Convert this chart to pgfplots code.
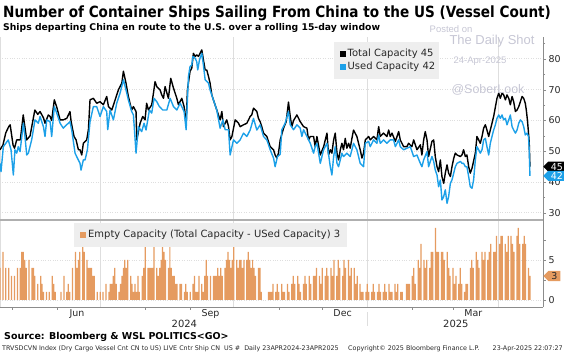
\documentclass[border=0pt]{standalone}
\usepackage{pgfplots}
\pgfplotsset{compat=1.18}
\usepackage{fontspec}
\setmainfont{DejaVu Sans}
\newfontfamily\titlef{DejaVu Sans}[FakeStretch=0.88]
\newfontfamily\wmf{Liberation Sans}
\usetikzlibrary{shapes.symbols}
\definecolor{ublue}{RGB}{28,160,232}
\definecolor{barc}{RGB}{229,155,96}
\definecolor{gridc}{RGB}{222,222,222}
\definecolor{axc}{RGB}{140,140,140}
\definecolor{sepc}{RGB}{175,175,175}
\definecolor{legbg}{RGB}{238,238,238}
\definecolor{wm}{RGB}{198,198,212}
\definecolor{labc}{RGB}{40,40,40}
\begin{document}
\begin{tikzpicture}[x=1bp,y=1bp]
\path[use as bounding box] (0bp,0bp) rectangle (564bp,354bp);
% ---------------- top panel ----------------
\begin{axis}[
  at={(0bp,134bp)}, anchor=south west, scale only axis,
  width=543bp, height=183bp,
  xmin=0, xmax=374, ymin=27.7, ymax=87.1,
  axis line style={draw=none},
  xtick={69,161,253,343}, xticklabels={}, major x tick style={draw=none},
  xmajorgrids, x grid style={gridc, line width=0.6bp},
  ytick={30,40,50,60,70,80}, minor ytick={35,45,55,65,75,85},
  ymajorgrids, y grid style={gridc, dotted, line width=0.9bp},
  ytick pos=right, yticklabel pos=right, tick align=outside,
  major tick length=3bp, minor tick length=2bp,
  y tick style={axc},
  tick label style={font=\fontsize{9.5}{10}\selectfont, text=labc},
  yticklabel style={xshift=-1bp},
  /pgf/number format/assume math mode=true,
  clip mode=individual,
]
\draw[gridc, line width=0.8bp] (rel axis cs:0,0) -- (rel axis cs:0,1);
\draw[axc, line width=0.7bp] (rel axis cs:1,0) -- (rel axis cs:1,1);
\addplot[black, line width=1.4bp, line join=round] coordinates {
(0,50.5)(2,52)(4,56)(6,58)(7,58.6)(9,52)(10,51)(11.5,53.7)(14,53.7)(16,61.8)(18.4,53.7)(20.7,55)(24,63.4)(26,62)(27.6,62.9)(30,60.8)(31,59.1)(33.3,61.8)(34.5,61.3)(35.6,60)(37.4,66.7)(39,64.5)(41.4,60.2)(43.6,60.2)(46,60.7)(48.2,62.9)(49,59.6)(51,54.8)(52.4,53.7)(54,50.5)(55.1,50.5)(56.3,48.8)(57.4,52.6)(59.7,53.7)(60.9,57)(62,66.7)(64.3,67.2)(66.6,65.6)(68.9,66.1)(71.2,65.1)(73.5,67.8)(74.7,64.5)(77,63.4)(79.3,66.7)(81.6,70)(83.9,72.1)(85,76)(86.8,72.1)(88.4,67.8)(90.7,63.4)(91.9,64.5)(93.7,62.9)(94.2,53.7)(96.5,59.1)(98.3,61.3)(99.9,60.2)(101,65.6)(102.2,63.4)(104.5,65.1)(105.7,68.9)(106.8,72.6)(108,71)(110.3,69.9)(111.4,68.3)(112.6,67.2)(113.7,71)(116,67.2)(117.6,73.7)(119.5,70.5)(120.6,68.9)(121.8,67.2)(122.9,65.1)(125.2,67.2)(126.8,64.5)(127.5,61.3)(128.2,59)(129.1,69.9)(130.9,76)(132.1,77)(133.2,81.8)(134.4,80.8)(135.5,81.3)(136.7,80.8)(137.8,81.8)(139,82.9)(140.1,79.7)(141.3,76.4)(142.4,76.4)(143.6,74.3)(144.7,72.1)(145.9,68.3)(147,66.7)(149.3,63.4)(151.6,60.2)(152.8,62.9)(153.9,58)(156.2,60.2)(157.4,58)(158.5,53.7)(159.7,54.8)(162,60.2)(164.3,59.1)(165.4,58)(167.7,58.6)(170,59.1)(172.3,61.3)(173.4,61.8)(174.6,64)(176.9,62.9)(178,60.7)(179.2,59.6)(180.3,58)(181.5,55.9)(183.8,54.8)(186.1,51.5)(188.4,50.5)(189.5,48.8)(190.7,47.8)(191.8,49.4)(193,53.7)(195.3,57.5)(197.1,59.6)(198.7,66)(199.9,61.3)(201,58)(202.2,60)(204.5,61.8)(206.8,59.6)(209.1,58)(211.4,57.5)(212.5,53.7)(213.7,54.8)(216,54.8)(217.1,51.5)(218.3,54.8)(220.6,48.8)(222.9,51.5)(225.2,55.9)(226.3,48.8)(227.5,50.5)(228.6,49.4)(229.8,53.7)(230.9,55.9)(232.1,49.4)(233.2,47.2)(234.4,50.5)(235.5,52.6)(236.6,50.5)(237.8,54.2)(238.9,51)(240.1,52.6)(241.2,51)(242.4,54.2)(243.5,56.9)(245.8,54.8)(248.1,50.5)(249.3,47.8)(250.4,49.4)(251.6,53.7)(252.7,54.2)(253.9,54.8)(255,53.7)(257.3,54.8)(259.6,53.7)(260.8,58)(261.9,54.8)(264.2,55.9)(266.5,54.8)(267.7,56.9)(268.8,54.8)(270,55.9)(272.3,53.2)(274.6,56.4)(275.7,53.7)(278,51.5)(280.3,51.5)(281.4,52.6)(283.7,51.5)(284.9,53.7)(287.2,50.5)(289.5,52.1)(290.6,48.8)(291.8,53.7)(292.9,56.4)(294.1,53.7)(295.2,48.3)(297.5,53.2)(298.7,53.7)(299.8,48.3)(301,45)(302.1,43.4)(303.3,47.2)(304.4,41.8)(305.6,39.6)(306.7,42.9)(307.9,45.6)(309,42.9)(310.2,41.8)(311.3,45)(312.5,47.7)(313.6,49.4)(314.8,48.8)(317.1,48.3)(318.2,48.8)(319.3,50.5)(320.5,48.3)(321.6,48.8)(322.8,45)(323.9,42.9)(325.1,44.5)(327.4,49.4)(328.5,54.8)(329.7,53.7)(330.8,52.6)(332,54.8)(333.1,57.5)(334.3,58.6)(335.4,56.9)(336.6,54.8)(337.7,56.9)(340,61.3)(342.3,67.2)(343.5,68.9)(344.6,67.2)(345.8,68.9)(346.9,68.3)(348.1,66.7)(349.2,68.3)(350.4,67.2)(351.5,65.1)(352.7,67.8)(353.8,66.1)(355,62.9)(356.1,63.4)(357.3,64.5)(358.4,66.1)(359.6,67.8)(360.7,67.2)(361.8,65.6)(362.5,63.4)(363.3,60)(364,56)(364.5,53)(365,45)
};
\addplot[ublue, line width=1.4bp, line join=round] coordinates {
(0,46.1)(0.7,43.4)(2.3,51.5)(5.7,53.7)(7.6,50.5)(9.2,42.3)(10.3,50.5)(11.5,49.4)(12.6,51.5)(13.8,49.9)(16.1,59.1)(17.2,54.8)(18.4,48.8)(19.5,49.4)(21.8,53.7)(24.1,60.2)(26.4,59.1)(27.6,61.3)(29.9,58)(31,54.8)(32.2,60.2)(34.5,59.6)(35.6,54.8)(37.4,64.5)(39.1,62.4)(41.4,59.1)(43.6,57.5)(45.9,58.6)(48.2,59.6)(49.4,56.9)(51.7,49.4)(52.8,48.3)(55.1,46.1)(55.8,43.9)(57.4,47.2)(58.6,47.2)(60.2,50.5)(62,59.6)(64.3,64.5)(66.6,64.5)(68.9,61.3)(71.2,64.5)(73.5,62.9)(74.2,57)(75.8,63.4)(78.1,60.2)(80.4,65.6)(82.7,68.9)(85,73.2)(86.8,69.9)(88.4,66.7)(90.7,62.9)(91.9,61.8)(93.7,49.4)(95.3,58)(97.6,56.4)(99.2,59.1)(100.6,56.9)(102.9,63.4)(104.5,62.4)(106.1,67.2)(108,66.1)(109.8,64.5)(112.1,63.4)(114.9,63.4)(117.2,67.2)(119.5,64.5)(121.8,63.4)(124.1,65.6)(125.2,64.5)(126.8,62.9)(128.2,57)(129.8,74.3)(130.9,77.5)(132.1,78)(132.8,80.8)(134.4,80.2)(135.5,79.1)(136.2,76.4)(137.4,79.7)(139,81.8)(140.1,78)(141.3,73.2)(143.6,72.1)(144.7,69.9)(147,66.7)(149.3,63.4)(151.6,57.5)(153.5,60.2)(155.1,57)(157.4,57)(158.5,48.8)(160.8,53.7)(163.1,52.6)(165.4,53.7)(167.7,55.9)(170,54.8)(172.3,56.9)(174.6,60.7)(176.9,56.9)(179.2,58.6)(181.5,54.8)(183.8,53.7)(186.1,50.5)(188.4,47.8)(189.5,45)(191.1,48.3)(193,49)(194.1,57)(196.4,59.1)(198.7,62.9)(199.9,58.6)(202.2,57)(204.5,58.6)(206.8,57.5)(207.9,54.8)(209.1,57)(211.4,54.8)(213.7,52.6)(216,49.4)(217.1,51.5)(218.3,52.6)(220.6,46.1)(222.9,50.5)(225.2,52.6)(227.5,45)(228.6,42.3)(229.8,48.3)(230.9,51.5)(232.1,46.1)(233.2,45)(235.5,49.4)(236.6,48.3)(238.9,49.4)(241.2,48.3)(243.5,52.6)(245.8,50.5)(248.1,46.1)(250.4,45)(251.6,52.6)(253.9,53.2)(255,51.5)(257.3,53.7)(259.6,52.6)(260.8,55.3)(261.9,52.6)(264.2,53.7)(266.5,52.6)(268.8,53.7)(271.1,53.7)(272.3,51.5)(274.6,53.7)(275.7,51.5)(278,50.5)(280.3,51)(282.6,51.5)(284.9,48.3)(287.2,48.8)(289.5,46.1)(290.6,45)(291.8,47.2)(294.1,49.9)(295.2,45)(297.5,48.3)(298.7,46.7)(299.8,43.9)(301,42.3)(302.1,38.5)(303.3,40.7)(304.4,34.2)(305.6,35.3)(306.7,37.5)(307.9,33.1)(309,35.3)(310.2,39.6)(311.3,40.7)(312.5,42.9)(313.6,45)(314.8,46.1)(317.1,46.7)(318.2,46.1)(319.3,46.1)(320.5,45)(321.6,45)(322.8,41.8)(323.9,38.5)(325.1,38)(326.2,40.7)(327.4,47.2)(328.5,51.5)(329.7,50.5)(330.8,49.4)(332,50.5)(333.1,53.7)(334.3,54.2)(335.4,51.5)(336.6,48.8)(337.7,52.6)(340,56.9)(341.2,58.6)(342.3,60.7)(343.5,61.8)(344.6,60.7)(345.8,61.8)(346.9,60.2)(348.1,60.7)(349.2,58.6)(350.4,60.2)(351.5,61.8)(352.7,58)(353.8,56.9)(355,55.9)(356.1,56.9)(357.3,59.1)(358.4,60.2)(359.6,59.6)(360.7,58)(361.8,55.3)(363,55.9)(364,54.8)(364.5,50.5)(365,42)
};
\node[signal, signal to=west, fill=black, text=white, font=\fontsize{9.5}{10}\selectfont, inner xsep=2.5bp, inner ysep=1.5bp, anchor=west] at (axis cs:374,45) {45};
\node[signal, signal to=west, fill=ublue, text=white, font=\fontsize{9.5}{10}\selectfont, inner xsep=2.5bp, inner ysep=1.5bp, anchor=west] at (axis cs:374,42) {42};
\end{axis}
% ---------------- bottom panel ----------------
\begin{axis}[
  at={(0bp,47bp)}, anchor=south west, scale only axis,
  width=543bp, height=87bp,
  xmin=0, xmax=374, ymin=-0.875, ymax=10,
  axis line style={draw=none},
  xtick={69,161,253,343}, xticklabels={}, major x tick style={draw=none},
  minor xtick={8,39,100,131,192,222,284,312},
  xmajorgrids, x grid style={gridc, line width=0.6bp},
  extra x ticks={53,145,236,326}, extra x tick labels={Jun,Sep,Dec,Mar},
  extra x tick style={grid=none, major tick length=0pt},
  xtick pos=bottom,
  ytick={0,5}, minor ytick={2.5,7.5},
  ymajorgrids, y grid style={gridc, dotted, line width=0.9bp},
  ytick pos=right, yticklabel pos=right, tick align=outside,
  major tick length=3bp, minor tick length=2.5bp,
  tick style={axc},
  tick label style={font=\fontsize{9.5}{10}\selectfont, text=labc},
  yticklabel style={xshift=-1bp},
  xticklabel style={yshift=1bp},
  /pgf/number format/assume math mode=true,
  clip mode=individual,
]
\draw[gridc, line width=0.8bp] (rel axis cs:0,0) -- (rel axis cs:0,1);
\draw[axc, line width=0.7bp] (rel axis cs:1,0) -- (rel axis cs:1,1);
\draw[axc, line width=0.7bp] (rel axis cs:0,0) -- (rel axis cs:1,0);
\addplot[ybar, bar width=0.85, fill=barc, draw=none] coordinates {
(0,4)(2,6)(4,4)(6,4)(8,3)(10,3)(12,4)(14,4)(15,6)(16,6)(17,5)(18,4)(20,5)(22,4)(23,4)(24,3)(26,2)(28,3)(29,2)(30,1)(32,1)(34,1)(36,3)(37,2)(38,1)(42,1)(44,3)(46,1)(47,2)(48,1)(50,4)(52,6)(53,4)(54,5)(55,6)(57,7)(58,6)(60,5)(61,4)(62,4)(63,4)(64,3)(65,3)(67,1)(69,1)(71,1)(73,2)(75,1)(76,2)(77,2)(78,3)(79,4)(80,2)(82,1)(83,2)(84,3)(85,4)(86,5)(87,4)(88,5)(90,3)(91,2)(92,1)(93,2)(94,1)(95,3)(96,1)(98,3)(99,4)(100,7)(102,4)(103,4)(104,4)(105,4)(106,7)(108,4)(109,3)(110,4)(111,5)(112,7)(113,6)(114,5)(116,4)(117,7)(118,4)(119,3)(120,3)(121,2)(122,2)(124,2)(125,2)(127,1)(128,2)(129,1)(131,1)(133,2)(134,3)(135,1)(136,1)(137,3)(139,2)(140,1)(141,3)(142,5)(143,3)(145,3)(147,3)(148,3)(149,3)(150,4)(151,3)(152,4)(153,3)(155,4)(156,5)(157,6)(158,5)(159,4)(160,5)(161,7)(163,5)(164,4)(165,5)(166,5)(167,4)(168,5)(170,5)(171,6)(172,5)(173,4)(174,5)(175,4)(176,3)(178,4)(179,4)(180,1)(185,1)(186,1)(187,1)(188,2)(190,1)(191,2)
(192,1)(194,2)(195,1)(196,1)(198,2)(199,1)(201,2)(202,3)(203,2)(205,3)(206,2)(207,1)(209,2)(210,3)(211,2)(213,3)(214,2)(216,3)(217,3)(218,4)(220,3)(221,2)(222,4)(224,3)(225,4)(226,3)(228,4)(229,3)(230,5)(232,3)(233,5)(234,4)(236,3)(237,5)(238,4)(240,5)(241,3)(242,4)(244,4)(245,2)(246,3)(248,2)(249,1)(250,1)(252,1)(253,2)(254,1)(256,1)(257,2)(258,1)(260,1)(261,2)(262,1)(264,1)(265,2)(266,1)(268,2)(269,1)(270,1)(272,2)(273,1)(274,2)(276,1)(277,1)(280,2)(281,2)(282,2)(284,3)(285,4)(286,2)(288,5)(289,4)(290,7)(292,5)(293,4)(294,5)(296,4)(297,6)(298,6)(300,9)(301,6)(302,6)(304,6)(305,6)(306,5)(308,6)(309,4)(310,3)(312,4)(313,2)(314,3)(316,2)(317,4)(318,2)(320,1)(321,2)(322,2)(324,4)(325,5)(326,4)(328,6)(329,5)(330,4)(332,6)(333,5)(334,6)(336,5)(337,6)(338,7)(340,6)(341,6)(342,8)(344,7)(345,8)(346,8)(348,7)(349,6)(350,8)(352,8)(353,7)(354,6)(356,8)(357,9)(358,7)(360,7)(361,8)(362,7)(364,4)(365,3)
};
\node[signal, signal to=west, fill=barc, text=labc, font=\fontsize{9.5}{10}\selectfont, inner xsep=3bp, inner ysep=1.5bp, anchor=west] at (axis cs:374,3) {3};
\node[font=\fontsize{10}{11}\selectfont, text=labc] at ([yshift=-17bp]axis cs:127,-0.875) {2024};
\node[font=\fontsize{10}{11}\selectfont, text=labc] at ([yshift=-17bp]axis cs:314,-0.875) {2025};
\draw[gridc, line width=0.8bp] ([yshift=-5bp]axis cs:253,-0.875) -- ([yshift=-19bp]axis cs:253,-0.875);
\end{axis}
% separator between panels
\draw[sepc, line width=2bp] (0bp,134bp) -- (543bp,134bp);
% titles
\node[anchor=west, inner sep=0pt] at (3bp,341bp) {\titlef\fontsize{15.5}{17}\selectfont\bfseries Number of Container Ships Sailing From China to the US (Vessel Count)};
\node[anchor=west, inner sep=0pt] at (3bp,326.5bp) {\fontsize{9.3}{11}\selectfont\bfseries Ships departing China en route to the U.S. over a rolling 15-day window};
% watermarks
\node[text=wm, font=\wmf\fontsize{9.5}{11}\selectfont] at (451bp,325bp) {Posted on};
\node[text=wm, font=\wmf\fontsize{13}{15}\selectfont] at (492bp,313bp) {The Daily Shot};
\node[text=wm, font=\wmf\fontsize{9.5}{11}\selectfont] at (480bp,293bp) {24-Apr-2025};
\node[text=wm, font=\wmf\fontsize{12.5}{14}\selectfont] at (488bp,264bp) {@SoberLook};
% top legend
\fill[legbg] (334bp,275bp) rectangle (439bp,312bp);
\fill[black] (340bp,297bp) rectangle (346bp,303bp);
\node[anchor=west, inner sep=0pt, text=labc, font=\fontsize{10}{11}\selectfont] at (347.5bp,300bp) {Total Capacity 45};
\fill[ublue] (340bp,284bp) rectangle (346bp,290bp);
\node[anchor=west, inner sep=0pt, text=labc, font=\fontsize{10}{11}\selectfont] at (347.5bp,287bp) {Used Capacity 42};
% bottom legend
\fill[legbg] (74bp,107bp) rectangle (347bp,131bp);
\fill[barc] (80bp,116bp) rectangle (86bp,122bp);
\node[anchor=west, inner sep=0pt, text=labc, font=\fontsize{10}{11}\selectfont] at (88bp,119bp) {Empty Capacity (Total Capacity - USed Capacity) 3};
% footer
\node[anchor=west, inner sep=0pt] at (4bp,17bp) {\fontsize{9.5}{12}\selectfont\bfseries Source: Bloomberg \& WSL POLITICS<GO>};
\node[anchor=west, inner sep=0pt, text=labc] at (2bp,5bp) {\fontsize{6.4}{7}\selectfont TRVSDCVN Index (Dry Cargo Vessel Cnt CN to US) LIVE Cntr Ship CN\ \ US \#\ \ Daily 23APR2024-23APR2025};
\node[anchor=west, inner sep=0pt, text=labc] at (348bp,5bp) {\fontsize{6.4}{7}\selectfont Copyright\textcopyright{} 2025 Bloomberg Finance L.P.};
\node[anchor=east, inner sep=0pt, text=labc] at (563bp,5bp) {\fontsize{6.4}{7}\selectfont 23-Apr-2025 22:07:27};
\end{tikzpicture}
\end{document}
